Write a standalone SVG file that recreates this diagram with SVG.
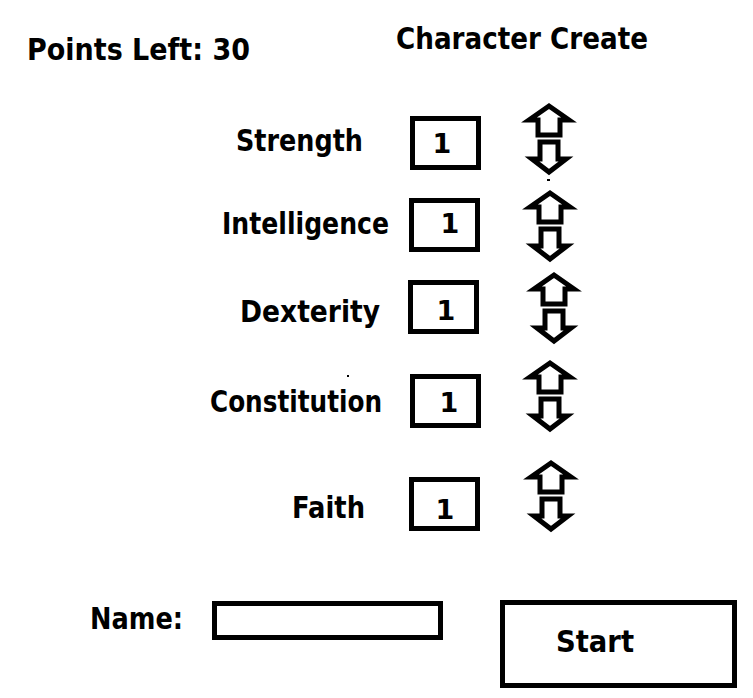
<svg xmlns="http://www.w3.org/2000/svg" xmlns:xlink="http://www.w3.org/1999/xlink" width="753" height="698" viewBox="0 0 753 698">
  <style>
    .t { font-family: "DejaVu Sans", "Liberation Sans", sans-serif; font-weight: bold; font-size: 30px; fill: #000; }
    .d { font-family: "DejaVu Sans", "Liberation Sans", sans-serif; font-weight: bold; font-size: 27px; fill: #000; text-anchor: middle; }
    .box { fill: #fff; stroke: #000; stroke-width: 5; }
    .arr { fill: #fff; stroke: #000; stroke-width: 5; stroke-linejoin: miter; }
  </style>
  <defs>
    <g id="updown">
      <path class="arr" d="M0,3 L20,17 L11,17 L11,32 L-11,32 L-11,17 L-20,17 Z"/>
      <path class="arr" d="M-9,39 L9,39 L9,56 L17,56 L0,69 L-17,56 L-9,56 Z"/>
    </g>
  </defs>
  <rect width="753" height="698" fill="#fff"/>

  <g id="points-left">
    <text class="t" x="27" y="60" textLength="223" lengthAdjust="spacingAndGlyphs">Points Left: 30</text>
  </g>
  <g id="title">
    <text class="t" x="396" y="49" textLength="252" lengthAdjust="spacingAndGlyphs">Character Create</text>
  </g>

  <g id="strength">
    <text class="t" x="236" y="151" textLength="127" lengthAdjust="spacingAndGlyphs">Strength</text>
    <rect class="box" x="412.5" y="118.5" width="66" height="49"/>
    <text class="d" x="442" y="153">1</text>
    <use xlink:href="#updown" transform="translate(549,103)"/>
  </g>

  <g id="intelligence">
    <text class="t" x="222" y="234" textLength="167" lengthAdjust="spacingAndGlyphs">Intelligence</text>
    <rect class="box" x="411.5" y="200.5" width="66" height="49"/>
    <text class="d" x="450" y="233">1</text>
    <use xlink:href="#updown" transform="translate(550,190)"/>
  </g>

  <g id="dexterity">
    <text class="t" x="240" y="322" textLength="140" lengthAdjust="spacingAndGlyphs">Dexterity</text>
    <rect class="box" x="410.5" y="282.5" width="66" height="49"/>
    <text class="d" x="446" y="320">1</text>
    <use xlink:href="#updown" transform="translate(554,272)"/>
  </g>

  <g id="constitution">
    <text class="t" x="210" y="412" textLength="172" lengthAdjust="spacingAndGlyphs">Constitution</text>
    <rect class="box" x="412.5" y="376.5" width="66" height="49"/>
    <text class="d" x="449" y="412">1</text>
    <use xlink:href="#updown" transform="translate(550,360)"/>
    <rect x="347" y="375" width="2" height="2" fill="#000"/>
  </g>

  <g id="faith">
    <text class="t" x="292" y="518" textLength="73" lengthAdjust="spacingAndGlyphs">Faith</text>
    <rect class="box" x="411.5" y="479.5" width="66" height="49"/>
    <text class="d" x="445" y="519">1</text>
    <use xlink:href="#updown" transform="translate(551,460)"/>
  </g>

  <g id="name">
    <text class="t" x="90" y="629" textLength="93" lengthAdjust="spacingAndGlyphs">Name:</text>
    <rect class="box" x="214.5" y="603.5" width="226" height="34"/>
  </g>

  <g id="start">
    <rect class="box" x="502.5" y="602.5" width="232" height="83"/>
    <text class="t" x="556" y="652" textLength="78" lengthAdjust="spacingAndGlyphs">Start</text>
  </g>

  <rect x="547" y="179" width="3" height="2" fill="#000"/>
</svg>
